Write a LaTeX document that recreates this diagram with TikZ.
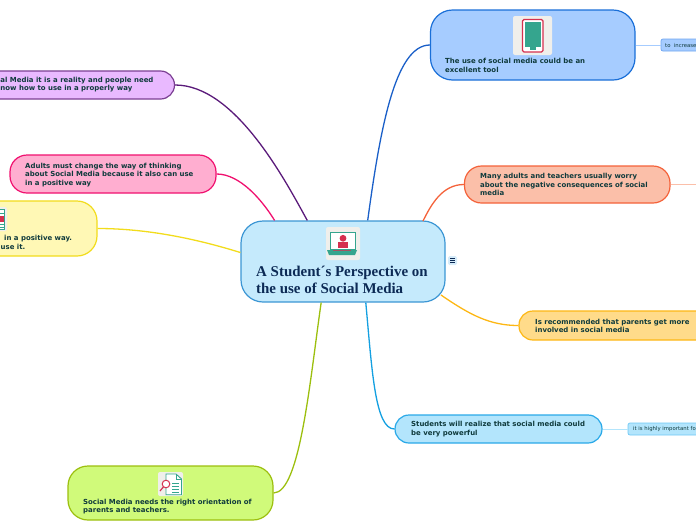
\documentclass[tikz,border=0pt]{standalone}
\usepackage{fontspec}
\setmainfont{DejaVu Sans}
\newfontfamily\serifbold{Liberation Serif}
\definecolor{txt}{HTML}{0F3A3C}
\definecolor{navy}{HTML}{0C2A55}
\definecolor{iconbg}{HTML}{F0EFEB}
\definecolor{teal}{HTML}{35A58E}
\definecolor{iconred}{HTML}{D5304F}
\definecolor{rootline}{HTML}{3C96D4}\definecolor{rootfill}{HTML}{C5EAFC}
\definecolor{toolline}{HTML}{1A6FD8}\definecolor{toolfill}{HTML}{A6CCFF}\definecolor{toolconn}{HTML}{1A5FC8}
\definecolor{worryline}{HTML}{F4623A}\definecolor{worryfill}{HTML}{FBBFA9}
\definecolor{parentline}{HTML}{FDB714}\definecolor{parentfill}{HTML}{FFDB8A}
\definecolor{studline}{HTML}{2AA9E8}\definecolor{studfill}{HTML}{B3E5FC}\definecolor{studconn}{HTML}{14A0E1}
\definecolor{orientline}{HTML}{9CBF0E}\definecolor{orientfill}{HTML}{D0FA7A}
\definecolor{posline}{HTML}{F2DC1C}\definecolor{posfill}{HTML}{FFF8B5}
\definecolor{adultline}{HTML}{F0106F}\definecolor{adultfill}{HTML}{FFAED0}
\definecolor{realline}{HTML}{7B3F93}\definecolor{realfill}{HTML}{E9B9FF}\definecolor{realconn}{HTML}{5A1A7A}
\definecolor{incline}{HTML}{6EA5F0}\definecolor{impline}{HTML}{6EC8F5}
\definecolor{notefill}{HTML}{D6ECFA}
\tikzset{
  x=1pt,y=-1pt,
  mapbox/.style={draw=#1,line width=1.2pt,rounded corners=17pt,inner sep=0pt},
  branch/.style={line width=1.3pt},
  leaf/.style={line width=1pt},
  smallbox/.style={draw=#1,line width=.7pt,rounded corners=2pt,inner sep=0pt},
  boldlabel/.style={anchor=west,inner sep=0pt,align=left,text=txt,font=\fontsize{6.95}{8.8}\selectfont\bfseries},
  smalllabel/.style={anchor=west,inner sep=0pt,text=txt,font=\fontsize{5.35}{6}\selectfont},
}
\begin{document}
\begin{tikzpicture}
\useasboundingbox (0,0) rectangle (696,520);
\clip (0,0) rectangle (696,520);
% main nodes
\node[mapbox=rootline,fill=rootfill,rounded corners=22pt,minimum width=204pt,minimum height=81pt] (root) at (343,261.5) {};
\node[mapbox=toolline,fill=toolfill,rounded corners=22pt,minimum width=204.5pt,minimum height=70pt] (tool) at (532.75,45) {};
\node[mapbox=worryline,fill=worryfill,minimum width=205.5pt,minimum height=37pt] (worry) at (567.25,184.5) {};
\node[mapbox=parentline,fill=parentfill,minimum width=206pt,minimum height=29pt,rounded corners=14pt] (parents) at (622,325.5) {};
\node[mapbox=studline,fill=studfill,minimum width=207pt,minimum height=28pt,rounded corners=14pt] (students) at (498.5,429) {};
\node[mapbox=orientline,fill=orientfill,rounded corners=20pt,minimum width=205pt,minimum height=54pt] (orient) at (170.5,493) {};
\node[mapbox=posline,fill=posfill,rounded corners=20pt,minimum width=197pt,minimum height=55pt] (positive) at (-1.5,228.5) {};
\node[mapbox=adultline,fill=adultfill,minimum width=206pt,minimum height=38pt] (adults) at (113,174) {};
\node[mapbox=realline,fill=realfill,minimum width=235pt,minimum height=28pt,rounded corners=14pt] (reality) at (57,85) {};
% small nodes
\node[smallbox=incline,fill=toolfill,minimum width=60pt,minimum height=12pt] (increase) at (691,45) {};
\node[smallbox=impline,fill=studfill,minimum width=80pt,minimum height=12pt] (important) at (668,429) {};
\coordinate (worryend) at (700,184.5);
\coordinate (rootcorner) at (441,295);
\coordinate (roottop) at (423,221);
% connectors
\draw[branch,draw=toolconn] (root.59.3) .. controls (380,130) and (395,45) .. (tool.west);
\draw[branch,draw=worryline] (roottop) .. controls (431,205) and (442,184.5) .. (worry.west);
\draw[branch,draw=parentline] (rootcorner) .. controls (470,315) and (490,325.5) .. (parents.west);
\draw[branch,draw=studconn] (root.-61.5) .. controls (372,370) and (375,429) .. (students.west);
\draw[branch,draw=orientline] (root.-118.5) .. controls (310,380) and (300,493) .. (orient.east);
\draw[branch,draw=posline] (root.175.2) .. controls (200,240) and (150,228.5) .. (positive.east);
\draw[branch,draw=adultline] (root.149.2) .. controls (262,200) and (240,174) .. (adults.east);
\draw[branch,draw=realconn] (root.131.6) .. controls (285,180) and (235,85) .. (reality.east);
\draw[leaf,draw=toolfill] (tool.east) -- (increase.west);
\draw[leaf,draw=worryfill] (worry.east) -- (worryend);
\draw[leaf,draw=studfill] (students.east) -- (important.west);
% texts
\node[inner sep=0pt,anchor=west,align=left,text=navy,font=\serifbold\fontsize{14.95}{17}\selectfont\bfseries] (roottext) at (256,280) {A Student´s Perspective on\\the use of Social Media};
\node[boldlabel] (tooltext) at (445,65.5) {The use of social media could be an\\excellent tool};
\node[boldlabel] (worrytext) at (480,184.5) {Many adults and teachers usually worry\\about the negative consequences of social\\media};
\node[boldlabel] (parentstext) at (535,326) {Is recommended that parents get more\\involved in social media};
\node[boldlabel] (studentstext) at (411,429.5) {Students will realize that social media could\\be very powerful};
\node[boldlabel] (orienttext) at (83,506.5) {Social Media needs the right orientation of\\parents and teachers.};
\node[boldlabel] (adultstext) at (25,175) {Adults must change the way of thinking\\about Social Media because it also can use\\in a positive way};
\node[boldlabel] (positivetexta) at (4,238.5) {in a positive way.};
\node[boldlabel] (positivetextb) at (0.5,246.5) {use it.};
\node[boldlabel] (realitytexta) at (0.3,81) {al Media it is a reality and people need};
\node[boldlabel] (realitytextb) at (0.3,89) {now how to use in a properly way};
\node[smalllabel] (increasetext) at (665,45.5) {to\ \ increase};
\node[smalllabel] (importanttext) at (633,429.5) {it is highly important fo};
% tablet icon
\fill[iconbg,rounded corners=2pt] (513,16) rectangle (552,55);
\draw[iconred,line width=1.2pt,fill=white,rounded corners=1.5pt] (522.5,19.5) rectangle (543,52);
\fill[teal] (524.5,22) rectangle (541,46.5);
\fill[teal] (530,47) rectangle (536,50);
% laptop icon
\fill[iconbg,rounded corners=2pt] (326,227) rectangle (360,260);
\draw[teal,line width=1pt,fill=white] (330,232.5) rectangle (355,249.5);
\fill[iconred] (343,238.3) circle (3.4pt);
\fill[iconred] (338,242.3) rectangle (347.7,247.5);
\fill[teal] (327,250) -- (357,250) -- (355,255) -- (329,255) -- cycle;
\fill[iconred!70!teal] (333,250) rectangle (351,251);
% document icon, lower left
\fill[iconbg,rounded corners=2pt] (158,472) rectangle (183,496);
\draw[teal,line width=.9pt,fill=white] (166,474) -- (176,474) -- (181.5,479) -- (181.5,494.7) -- (166,494.7) -- cycle;
\draw[teal,line width=.9pt] (176,474) -- (176,479) -- (181.5,479);
\draw[teal,line width=.7pt] (172,483) -- (179,483) (172,486) -- (179,486) (172,489) -- (179,489) (172,492) -- (179,492);
\draw[iconred,line width=1pt,fill=white] (166,484) circle (3.8pt);
\draw[iconred,line width=1.2pt] (163.5,486.8) -- (160,491);
% document icon, cut at the left edge
\fill[iconbg,rounded corners=2pt] (-20,207) rectangle (7,231);
\draw[teal,line width=.8pt,fill=white] (-10,209) rectangle (4,229);
\fill[iconred] (-10,216) rectangle (3.5,222);
\draw[teal,line width=.7pt] (-4,213) -- (3.5,213) (-4,224.5) -- (3.5,224.5) (-4,227) -- (3.5,227);
% notes marker
\fill[notefill,rounded corners=1.5pt] (448,256) rectangle (457,265);
\draw[navy,line width=.7pt] (450,258.7) -- (455,258.7) (450,260.5) -- (455,260.5) (450,262.3) -- (455,262.3);
\end{tikzpicture}
\end{document}
